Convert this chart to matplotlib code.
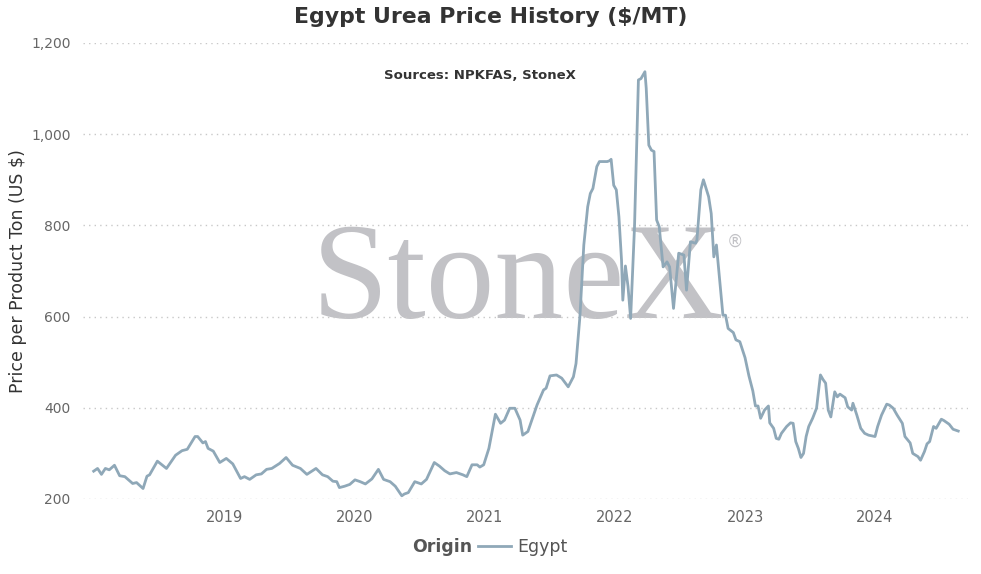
import matplotlib.pyplot as plt
from matplotlib.ticker import FuncFormatter

# weekly-ish price points (decimal year, $/MT)
years = [2017.99, 2018.02, 2018.05, 2018.08, 2018.11, 2018.15, 2018.19, 2018.23, 2018.29, 2018.32,
         2018.37, 2018.40, 2018.42, 2018.48, 2018.55, 2018.62, 2018.67, 2018.71, 2018.77, 2018.79,
         2018.83, 2018.85, 2018.87, 2018.91, 2018.96, 2019.01, 2019.06, 2019.12, 2019.15, 2019.19,
         2019.24, 2019.28, 2019.32, 2019.36, 2019.42, 2019.47, 2019.52, 2019.58, 2019.63, 2019.70,
         2019.75, 2019.79, 2019.83, 2019.86, 2019.88, 2019.92, 2019.96, 2020.00, 2020.04, 2020.08,
         2020.13, 2020.18, 2020.22, 2020.27, 2020.31, 2020.36, 2020.38, 2020.41, 2020.46, 2020.51,
         2020.55, 2020.61, 2020.65, 2020.69, 2020.73, 2020.78, 2020.83, 2020.86, 2020.90, 2020.94,
         2020.96, 2020.99, 2021.03, 2021.08, 2021.12, 2021.15, 2021.19, 2021.23, 2021.27, 2021.29,
         2021.33, 2021.40, 2021.45, 2021.47, 2021.50, 2021.55, 2021.59, 2021.64, 2021.68, 2021.70,
         2021.73, 2021.76, 2021.79, 2021.81, 2021.83, 2021.86, 2021.88, 2021.94, 2021.96, 2021.97,
         2021.99, 2022.01, 2022.03, 2022.05, 2022.06, 2022.08, 2022.10, 2022.12, 2022.15, 2022.18,
         2022.20, 2022.23, 2022.24, 2022.26, 2022.28, 2022.30, 2022.32, 2022.34, 2022.37, 2022.40,
         2022.42, 2022.45, 2022.49, 2022.53, 2022.55, 2022.58, 2022.62, 2022.63, 2022.66, 2022.68,
         2022.72, 2022.74, 2022.76, 2022.78, 2022.81, 2022.83, 2022.85, 2022.87, 2022.91, 2022.93,
         2022.96, 2023.00, 2023.03, 2023.06, 2023.08, 2023.10, 2023.12, 2023.15, 2023.18, 2023.19,
         2023.22, 2023.24, 2023.26, 2023.28, 2023.32, 2023.35, 2023.37, 2023.39, 2023.41, 2023.43,
         2023.45, 2023.47, 2023.49, 2023.52, 2023.55, 2023.58, 2023.60, 2023.62, 2023.64, 2023.66,
         2023.69, 2023.71, 2023.73, 2023.77, 2023.79, 2023.82, 2023.83, 2023.86, 2023.89, 2023.92,
         2023.95, 2024.00, 2024.02, 2024.05, 2024.09, 2024.11, 2024.14, 2024.17, 2024.21, 2024.23,
         2024.27, 2024.29, 2024.33, 2024.35, 2024.38, 2024.40, 2024.42, 2024.45, 2024.47, 2024.51,
         2024.53, 2024.57, 2024.60, 2024.64]
prices = [261, 267, 254, 267, 264, 274, 251, 249, 234, 236,
          223, 250, 253, 283, 267, 296, 306, 309, 337, 337,
          323, 326, 311, 305, 280, 289, 277, 245, 249, 243,
          253, 255, 265, 267, 278, 291, 274, 267, 254, 267,
          253, 249, 239, 238, 225, 228, 232, 242, 238, 233,
          244, 265, 243, 238, 228, 207, 211, 214, 238, 233,
          243, 280, 272, 262, 255, 258, 253, 249, 275, 275,
          270, 275, 311, 386, 366, 373, 399, 399, 373, 340,
          348, 406, 439, 443, 470, 472, 465, 446, 468, 497,
          600, 757, 841, 870, 881, 929, 940, 940, 942, 945,
          888, 878, 819, 724, 636, 711, 666, 596, 797, 1119,
          1122, 1137, 1101, 976, 965, 962, 812, 797, 709, 720,
          709, 618, 739, 735, 658, 764, 761, 768, 878, 900,
          863, 826, 731, 757, 666, 603, 603, 574, 565, 549,
          545, 510, 470, 437, 404, 404, 377, 395, 404, 367,
          355, 333, 331, 344, 359, 367, 366, 326, 311, 291,
          300, 337, 359, 377, 399, 472, 462, 454, 395, 380,
          435, 424, 430, 422, 402, 395, 410, 384, 355, 344,
          340, 337, 359, 384, 408, 406, 399, 384, 366, 337,
          323, 300, 293, 285, 304, 321, 326, 359, 355, 375,
          372, 364, 353, 349]
tick_years = [2019, 2020, 2021, 2022, 2023, 2024]
y_ticks = [200, 400, 600, 800, 1000, 1200]

line_col = '#8fa8b8'

fig = plt.figure(figsize=(9.81, 5.74), dpi=100)
ax = fig.add_axes([83/981, 1-499/574, (968-83)/981, (499-43)/574])

# watermark
ax.text(0.258, 0.397, 'StoneX', transform=ax.transAxes, fontsize=99,
        family='Liberation Serif', color='#c2c2c6', ha='left', va='baseline', zorder=0)
ax.text(0.727, 0.565, '®', transform=ax.transAxes, fontsize=12,
        color='#c2c2c6', ha='left', va='center', zorder=0)

ax.plot(years, prices, color=line_col, lw=2.0, zorder=3)

ax.set_xlim(2017.908, 2024.715)
ax.set_ylim(200, 1200)
ax.set_xticks(tick_years)
ax.set_yticks(y_ticks)
ax.xaxis.set_major_formatter(FuncFormatter(lambda v, p: '%d' % v))
ax.yaxis.set_major_formatter(FuncFormatter(lambda v, p: '{:,.0f}'.format(v)))
ax.tick_params(axis='both', length=0, labelsize=10, labelcolor='#666666')
ax.tick_params(axis='x', pad=8, labelsize=10.5)
ax.tick_params(axis='y', pad=9)
ax.grid(axis='y', color='#c8c8c8', linestyle=(0, (1, 3)), lw=1)
for s in ax.spines.values():
    s.set_visible(False)

ax.set_ylabel('Price per Product Ton (US $)', fontsize=12.5, color='#333333')
ax.yaxis.set_label_coords((27-83)/885, 0.5)

fig.text(0.5, 1-17/574, 'Egypt Urea Price History ($/MT)', ha='center', va='center',
         fontsize=15.8, fontweight='bold', color='#333333')
ax.text(0.448, 0.928, 'Sources: NPKFAS, StoneX', transform=ax.transAxes, ha='center',
        va='center', fontsize=9.5, fontweight='bold', color='#333333')

# legend
fig.text(472/981, 1-547/574, 'Origin', ha='right', va='center', fontsize=12.5,
         fontweight='bold', color='#555555')
fig.legend(['Egypt'], loc='center left', bbox_to_anchor=(478/981, 1-547/574), frameon=False,
           fontsize=12.5, handlelength=1.9, handletextpad=0.35, labelcolor='#555555',
           borderaxespad=0, borderpad=0)

plt.savefig('out.png', dpi=100)
